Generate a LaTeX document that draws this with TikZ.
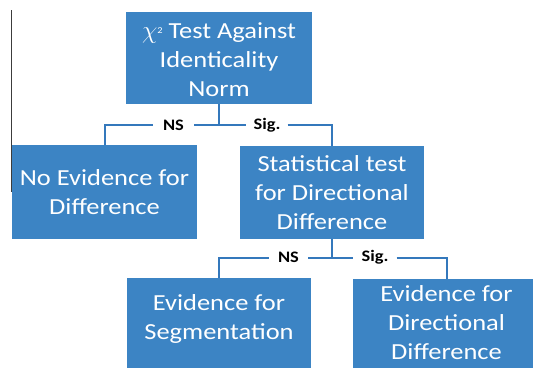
\documentclass[tikz,border=0pt]{standalone}
\usepackage{fontspec}
\setmainfont[FakeStretch=1.15]{Carlito}
\definecolor{boxblue}{RGB}{60,132,196}
\definecolor{lineblue}{RGB}{52,120,188}
\definecolor{edgegray}{RGB}{60,60,60}
\begin{document}
\begin{tikzpicture}[x=1pt,y=-1pt,
  box/.style={fill=boxblue, draw=none, inner sep=0pt},
  boxtext/.style={text=white, align=center, inner sep=0pt,
    font=\fontsize{23}{29}\selectfont},
  lab/.style={font=\bfseries\fontsize{16}{18}\selectfont, inner ysep=0pt, inner xsep=10pt},
  conn/.style={draw=lineblue, line width=2pt}]
\useasboundingbox (0,0) rectangle (533,367);
\clip (0,0) rectangle (533,367);

% stray edge line at the left
\coordinate (e1) at (11.5,10);
\coordinate (e2) at (11.5,192);
\draw[edgegray, line width=1pt] (e1) -- (e2);

% boxes
\node[box, minimum width=186pt, minimum height=92pt] (top) at (219,58) {};
\node[boxtext] (toptext) at (219,59.5) {$\chi$\raisebox{0.45ex}{\fontsize{9}{9}\selectfont 2} Test Against\\Identicality\\Norm};

\node[box, minimum width=185pt, minimum height=94pt] (noev) at (104.5,192) {};
\node[boxtext] (noevtext) at (104.5,192.5) {No Evidence for\\Difference};

\node[box, minimum width=184pt, minimum height=93pt] (stat) at (332,192.5) {};
\node[boxtext] (stattext) at (332,193) {Statistical test\\for Directional\\Difference};

\node[box, minimum width=184pt, minimum height=97pt] (seg) at (219,326.5) {};
\node[boxtext] (segtext) at (219,318.5) {Evidence for\\Segmentation};

\node[box, minimum width=187pt, minimum height=91pt] (dir) at (446.5,324.5) {};
\node[boxtext] (dirtext) at (446.5,323) {Evidence for\\Directional\\Difference};

% upper connector
\coordinate (j1) at (219,125);
\node[lab, inner xsep=10pt] (ns1) at (173.5,125) {NS};
\node[lab, inner xsep=7pt] (sig1) at (267,125) {Sig.};
\draw[conn] (top.south) -- (j1);
\draw[conn] (ns1.east) -- (sig1.west);
\draw[conn] (ns1.west) -| (noev.north);
\draw[conn] (sig1.east) -| (stat.north);

% lower connector
\coordinate (j2) at (332,257.5);
\node[lab, inner xsep=9pt] (ns2) at (288.5,257.5) {NS};
\node[lab, inner xsep=8pt] (sig2) at (375,257.5) {Sig.};
\draw[conn] (stat.south) -- (j2);
\draw[conn] (ns2.east) -- (sig2.west);
\draw[conn] (ns2.west) -| (seg.north);
\draw[conn] (sig2.east) -| (dir.north);
\end{tikzpicture}
\end{document}
